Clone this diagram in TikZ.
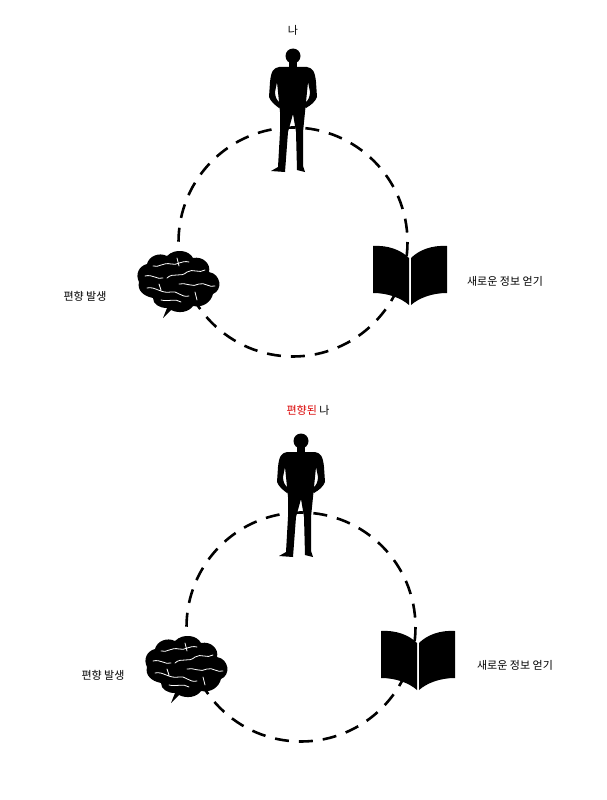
\documentclass[tikz,border=0pt]{standalone}
\usepackage{fontspec}
\newfontfamily\kr{Noto Sans CJK KR}
\begin{document}
\begin{tikzpicture}[x=1pt,y=-1pt,
  lbl/.style={font=\kr\fontsize{11}{13}\selectfont, inner sep=0pt},
  ring/.style={line width=2.6pt, dash pattern=on 14pt off 10pt},
  pics/cycle/.style n args={1}{code={
    % ring
    \draw[ring] (0,0) circle[radius=114.5];
    % person
    \fill (0,-186) circle[radius=7.5];
    \fill (-4,-181) rectangle (4,-175);
    \fill (-14,-175) .. controls (-20,-174) and (-22,-170) .. (-23,-160)
      -- (-24,-145) .. controls (-22,-140) and (-18,-137) .. (-14,-134)
      -- (-12,-138) .. controls (-16,-141) and (-18,-145) .. (-18,-150)
      -- (-16,-160) -- (-13,-130) -- (-13,-110) -- (-15,-75) -- (-22,-71) -- (-8,-70)
      -- (-5,-110) -- (0,-128) -- (3,-110) -- (4,-72) -- (12,-70) -- (10,-76)
      -- (10,-110) -- (12,-130) -- (15,-160) -- (17,-150)
      .. controls (17,-145) and (15,-141) .. (11,-138) -- (13,-134)
      .. controls (18,-137) and (22,-140) .. (24,-145) -- (23,-160)
      .. controls (22,-170) and (20,-174) .. (14,-175) -- cycle;
    % book
    \fill (80,4) .. controls (95,3) and (108,8) .. (116,16) -- (116,63)
      .. controls (108,56) and (95,51) .. (80,51) -- cycle;
    \fill (118,16) .. controls (126,8) and (139,3) .. (154,4) -- (154,51)
      .. controls (139,51) and (126,56) .. (118,63) -- cycle;
    % brain
    \begin{scope}[yshift=-30pt]
    \fill (-140,26) .. controls (-150,24) and (-156,18) .. (-154,10)
      .. controls (-158,2) and (-154,-6) .. (-146,-8)
      .. controls (-144,-16) and (-134,-20) .. (-126,-16)
      .. controls (-118,-24) and (-104,-22) .. (-100,-14)
      .. controls (-90,-16) and (-82,-8) .. (-84,0)
      .. controls (-72,2) and (-70,18) .. (-80,22)
      .. controls (-82,30) and (-90,36) .. (-100,34)
      .. controls (-104,40) and (-114,42) .. (-122,38)
      -- (-130,46) -- (-126,36)
      .. controls (-134,36) and (-140,32) .. (-140,26) -- cycle;
    \draw[white, line width=0.8pt, line cap=round]
      (-148,4) .. controls (-140,2) and (-136,8) .. (-130,6)
      (-140,-6) .. controls (-134,-4) and (-130,-10) .. (-122,-8) .. controls (-116,-6) and (-112,-12) .. (-104,-10)
      (-126,6) .. controls (-120,0) and (-112,6) .. (-106,0) .. controls (-100,-4) and (-94,2) .. (-88,-2)
      (-146,16) .. controls (-138,14) and (-132,22) .. (-122,20) .. controls (-116,18) and (-112,26) .. (-104,24)
      (-114,12) .. controls (-108,10) and (-100,16) .. (-94,12) .. controls (-88,10) and (-84,16) .. (-78,14)
      (-132,28) .. controls (-124,30) and (-118,26) .. (-112,30)
      (-116,-14) -- (-114,-6) (-98,20) -- (-96,28) (-134,12) -- (-132,18);
    \end{scope}
  }}]
\useasboundingbox (0,0) rectangle (606,800);
\pic at (293,242) {cycle={}};
\node[lbl] (me1) at (293,30) {나};
\node[lbl] (bias1) at (85,296) {편향 발생};
\node[lbl] (info1) at (505,281) {새로운 정보 얻기};
\pic at (301,627) {cycle={}};
\node[lbl] (me2) at (308,410) {\textcolor{red!85!black}{편향된} 나};
\node[lbl] (bias2) at (103,675) {편향 발생};
\node[lbl] (info2) at (515,665) {새로운 정보 얻기};
\end{tikzpicture}
\end{document}
